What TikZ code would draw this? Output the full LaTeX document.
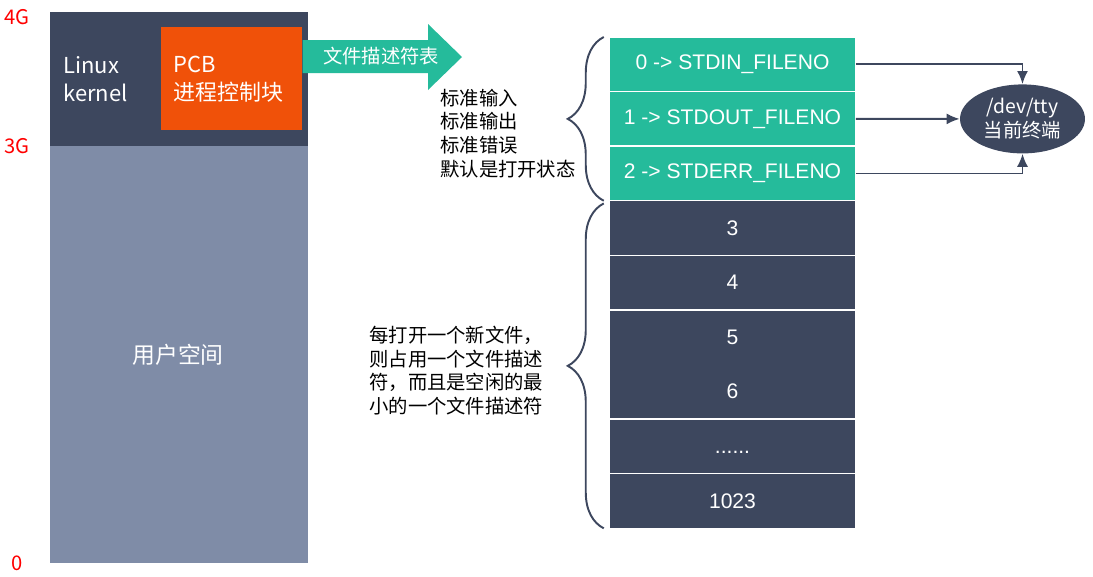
\documentclass[tikz,border=0pt]{standalone}
\usepackage{fontspec}
\setmainfont{Noto Sans CJK SC}
\newfontfamily\tabfont{Liberation Sans}
\usepackage{tikz}
\usepackage{xcolor}
\usetikzlibrary{arrows.meta,positioning,shapes.geometric,decorations.pathreplacing}

\definecolor{kdark}{HTML}{3D475E}
\definecolor{ulight}{HTML}{7F8CA7}
\definecolor{pcborange}{HTML}{F05109}
\definecolor{fdteal}{HTML}{25BB9B}

\begin{document}
\begin{tikzpicture}[
  x=0.02cm, y=-0.02cm,
  seg/.style={draw=none, anchor=north west, inner sep=0pt},
  lbl/.style={text=red, font=\fontsize{11.5}{13}\selectfont},
  row/.style={draw=white, line width=0.8pt, outer sep=0pt, minimum width=4.94cm, minimum height=1.092cm, text=white, font=\tabfont\fontsize{12}{14.4}\selectfont, align=center},
  stdrow/.style={row, fill=fdteal},
  freerow/.style={row, fill=kdark},
  note/.style={align=left, anchor=west, inner sep=0pt, font=\fontsize{11}{13.5}\selectfont},
  brc/.style={draw=kdark, line width=1.1pt, decorate, decoration={brace, amplitude=0.72cm}},
  arrow/.style={-{Latex[length=2.6mm, width=2.2mm]}, draw=kdark, line width=1.1pt}
]
\useasboundingbox (0,0) rectangle (1093,576);

% address space
\node[seg, fill=kdark, minimum width=5.16cm, minimum height=2.68cm] (kernel) at (50,12) {};
\node[seg, fill=ulight, minimum width=5.16cm, minimum height=8.34cm] (user) at (50,146) {};
\node[seg, fill=pcborange, minimum width=2.82cm, minimum height=2.06cm] (pcb) at (161,27) {};

\node[lbl] (g4) at (17,17) {4G};
\node[lbl] (g3) at (17,146) {3G};
\node[lbl] (g0) at (17,563) {0};

\node[anchor=west, align=left, inner sep=0pt, text=white, font=\fontsize{12.5}{16}\selectfont] (ktext) at (63,79) {Linux\\kernel};
\node[anchor=west, align=left, inner sep=0pt, text=white, font=\fontsize{12.5}{16}\selectfont] (pcbtext) at (173,79) {PCB\\进程控制块};
\node[text=white, font=\fontsize{13}{15}\selectfont] (utext) at (178,355) {用户空间};

% fd table arrow
\fill[fdteal] (pcb.east |- 0,40) -- (428,40) -- (428,24) -- (462,57) -- (428,90) -- (428,73) -- (pcb.east |- 0,73) -- cycle;
\node[text=white, font=\fontsize{11}{13}\selectfont] (fdt) at (381,56) {文件描述符表};

% table
\node[stdrow] (r0) at (732.5,64.3) {0 -> STDIN\_FILENO};
\node[stdrow, below=0pt of r0] (r1) {1 -> STDOUT\_FILENO};
\node[stdrow, below=0pt of r1] (r2) {2 -> STDERR\_FILENO};
\node[freerow, below=0pt of r2] (r3) {3};
\node[freerow, below=0pt of r3] (r4) {4};
\node[freerow, below=0pt of r4, minimum height=2.184cm] (r5) {5\\[0.58cm]6};
\node[freerow, below=0pt of r5] (rdots) {\vphantom{0}......};
\node[freerow, below=0pt of rdots] (rlast) {1023};

% braces
\draw[brc] ([xshift=-3pt]r2.south west) -- ([xshift=-3pt]r0.north west);
\draw[brc] ([xshift=-3pt]rlast.south west) -- ([xshift=-3pt, yshift=-1.5pt]r3.north west);

\node[note] (stdnote) at (440,133.5) {标准输入\\标准输出\\标准错误\\默认是打开状态};
\node[note] (newnote) at (369,370.5) {每打开一个新文件，\\则占用一个文件描述\\符，而且是空闲的最\\小的一个文件描述符};

% terminal
\node[ellipse, fill=kdark, minimum width=2.5cm, minimum height=1.38cm, inner sep=0pt, align=center, text=white, font=\fontsize{11}{13.6}\selectfont] (tty) at (1022.5,118.9) {/dev/tty\\当前终端};

\draw[arrow] (r0.east) -| (tty.north);
\draw[arrow] (r1.east) -- (tty.west);
\draw[arrow] (r2.east) -| (tty.south);
\end{tikzpicture}
\end{document}
